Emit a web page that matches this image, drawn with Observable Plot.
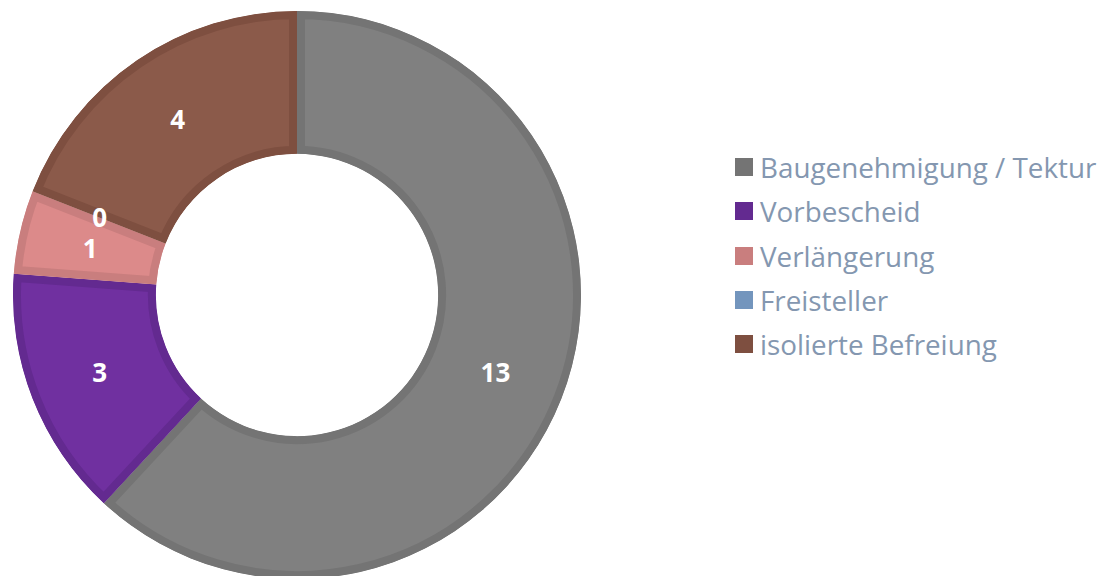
<!DOCTYPE html>
<html>
<head>
<meta charset="utf-8">
<script src="https://cdn.jsdelivr.net/npm/d3@7"></script>
<script src="https://cdn.jsdelivr.net/npm/@observablehq/plot@0.6"></script>
<style>
  body { margin: 0; background: #fff; }
  #wrap { position: relative; width: 1107px; height: 576px; overflow: hidden; }
  #chart { position: absolute; left: 0; top: 0; }
  #legend { position: absolute; left: 735px; top: 145px; font-family: "Open Sans", Lato, sans-serif; font-size: 27.8px; color: #8497B0; }
  .row { display: flex; align-items: center; height: 44.3px; white-space: nowrap; }
  .sw { width: 18px; height: 18px; margin-right: 7px; flex: none; }
</style>
</head>
<body>
<div id="wrap"><div id="chart"></div><div id="legend"></div></div>
<script>
const categories = ["Baugenehmigung / Tektur", "Vorbescheid", "Verlängerung", "Freisteller", "isolierte Befreiung"];
const values = [13, 3, 1, 0, 4];
const fills = ["#808080", "#7030A0", "#DC8A8A", "#7F9CC0", "#8B5A4A"];
const borders = ["#747474", "#632A90", "#C97E7E", "#7395BD", "#7E4F40"];

const innerRatio = 0.497;
const data = categories.map((c, i) => ({category: c, value: values[i], fill: fills[i], border: borders[i]}));
const arcs = d3.pie().sort(null).value(d => d.value)(data);
const labelR = (1 + innerRatio) / 2;
const labels = arcs.map(a => {
  const m = (a.startAngle + a.endAngle) / 2;
  return {label: String(a.data.value), x: labelR * Math.sin(m), y: labelR * Math.cos(m)};
});

function donut(index, scales, values, dimensions, context) {
  const {x, y} = scales;
  const cx = x(0), cy = y(0), R = x(1) - x(0);
  const arc = d3.arc().innerRadius(R * innerRatio).outerRadius(R);
  const g = d3.create("svg:g").attr("transform", `translate(${cx},${cy})`);
  arcs.forEach((a, i) => {
    if (a.endAngle - a.startAngle <= 0) return;
    const id = "clip" + i;
    const d = arc(a);
    g.append("clipPath").attr("id", id).append("path").attr("d", d);
    g.append("path").attr("d", d)
      .attr("fill", a.data.fill)
      .attr("stroke", a.data.border)
      .attr("stroke-width", 16)
      .attr("stroke-linejoin", "miter")
      .attr("clip-path", `url(#${id})`);
  });
  return g.node();
}

const R = 284, cx = 297, cy = 295;
const plot = Plot.plot({
  width: 720,
  height: 576,
  margin: 0,
  style: {fontFamily: "'Open Sans', sans-serif"},
  x: {domain: [-1, 1], range: [cx - R, cx + R], axis: null},
  y: {domain: [-1, 1], range: [cy + R, cy - R], axis: null},
  marks: [
    donut,
    Plot.text(labels, {x: "x", y: "y", text: "label", dy: 1, fill: "white", fontSize: 26, fontWeight: "bold", fontFamily: "'Open Sans', sans-serif"})
  ]
});
document.getElementById("chart").appendChild(plot);

const legend = d3.select("#legend");
data.forEach(d => {
  const row = legend.append("div").attr("class", "row");
  row.append("div").attr("class", "sw").style("background", d.border);
  row.append("span").text(d.category);
});
</script>
</body>
</html>
